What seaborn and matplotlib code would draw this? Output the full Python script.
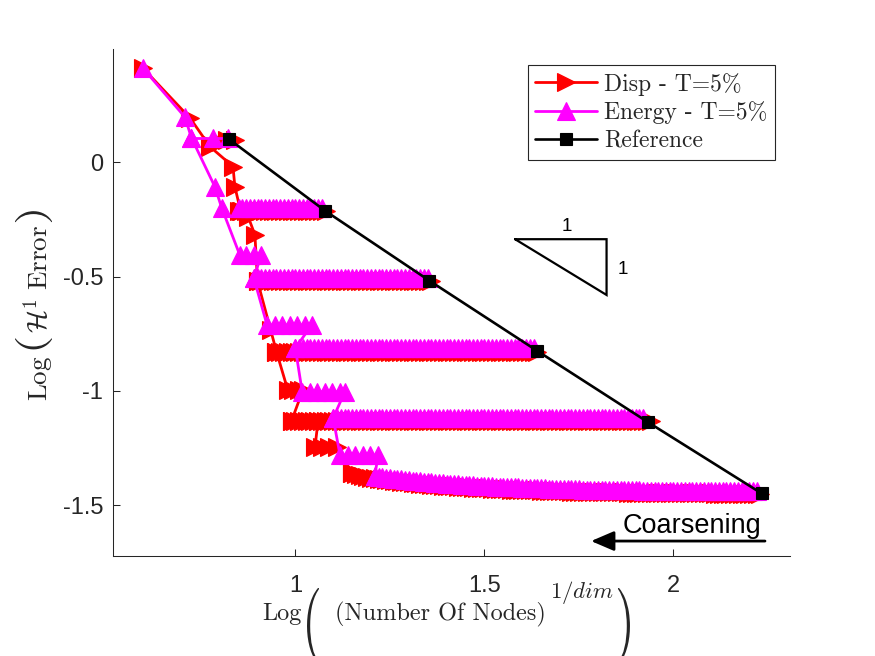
import matplotlib
matplotlib.use('Agg')
import matplotlib.pyplot as plt
import seaborn as sns
from matplotlib.textpath import TextPath
from matplotlib.patches import PathPatch
from matplotlib.font_manager import FontProperties
from matplotlib.transforms import Affine2D, IdentityTransform

# reference (uniform refinement) points
ref_x = [0.825, 1.078, 1.354, 1.640, 1.933, 2.233]
ref_y = [0.101, -0.211, -0.517, -0.825, -1.137, -1.448]

# left "staircase" of each adaptive series
disp_step_x = [0.597, 0.722, 0.774, 0.835, 0.840, 0.855, 0.875, 0.893, 0.900, 0.935, 0.950,
               0.980, 0.995, 1.010, 1.020, 0.990, 1.060, 1.052, 1.070, 1.090, 1.110, 1.150]
disp_step_y = [0.412, 0.193, 0.069, -0.018, -0.106, -0.212, -0.237, -0.317, -0.520, -0.735, -0.828,
               -0.996, -0.996, -0.996, -0.996, -1.130, -1.130, -1.245, -1.245, -1.245, -1.245, -1.360]

energy_step_x = [0.597, 0.708, 0.725, 0.787, 0.805, 0.853, 0.870, 0.890, 0.910, 0.890,
                 0.925, 0.945, 0.965, 0.985, 1.005, 1.025, 1.043, 1.000,
                 1.018, 1.038, 1.058, 1.078, 1.098, 1.118, 1.131, 1.100,
                 1.118, 1.138, 1.158, 1.178, 1.198, 1.219, 1.210]
energy_step_y = [0.412, 0.198, 0.108, -0.106, -0.198, -0.405, -0.405, -0.405, -0.405, -0.505,
                 -0.711, -0.711, -0.711, -0.711, -0.711, -0.711, -0.711, -0.813,
                 -1.003, -1.003, -1.003, -1.003, -1.003, -1.003, -1.003, -1.118,
                 -1.280, -1.280, -1.280, -1.280, -1.280, -1.280, -1.372]

# first level (short)
disp_lvl1_x = [0.78, 0.80, 0.82, 0.84]
disp_lvl1_y = [0.075, 0.090, 0.100, 0.100]
energy_lvl1_x = [0.725, 0.782, 0.822]
energy_lvl1_y = [0.108, 0.108, 0.108]

# coarsening plateaus, x positions of the dense markers
lvl2_x = [0.85, 0.86, 0.87, 0.88, 0.89, 0.90, 0.91, 0.92, 0.93, 0.94,
          0.95, 0.96, 0.97, 0.98, 0.99, 1.00, 1.01, 1.02, 1.03, 1.04,
          1.05, 1.06, 1.07, 1.08]
lvl3_x = [0.89, 0.90, 0.91, 0.92, 0.93, 0.94, 0.95, 0.96, 0.97, 0.98,
          0.99, 1.00, 1.01, 1.02, 1.03, 1.04, 1.05, 1.06, 1.07, 1.08,
          1.09, 1.10, 1.11, 1.12, 1.13, 1.14, 1.15, 1.16, 1.17, 1.18,
          1.19, 1.20, 1.21, 1.22, 1.23, 1.24, 1.25, 1.26, 1.27, 1.28,
          1.29, 1.30, 1.31, 1.32, 1.33, 1.34, 1.35, 1.36]
lvl4_x = [0.95, 0.96, 0.97, 0.98, 0.99, 1.00, 1.01, 1.02, 1.03, 1.04,
          1.05, 1.06, 1.07, 1.08, 1.09, 1.10, 1.11, 1.12, 1.13, 1.14,
          1.15, 1.16, 1.17, 1.18, 1.19, 1.20, 1.21, 1.22, 1.23, 1.24,
          1.25, 1.26, 1.27, 1.28, 1.29, 1.30, 1.31, 1.32, 1.33, 1.34,
          1.35, 1.36, 1.37, 1.38, 1.39, 1.40, 1.41, 1.42, 1.43, 1.44,
          1.45, 1.46, 1.47, 1.48, 1.49, 1.50, 1.51, 1.52, 1.53, 1.54,
          1.55, 1.56, 1.57, 1.58, 1.59, 1.60, 1.61, 1.62, 1.63, 1.64,
          1.65]
lvl5_x = [0.99, 1.00, 1.01, 1.02, 1.03, 1.04, 1.05, 1.06, 1.07, 1.08,
          1.09, 1.10, 1.11, 1.12, 1.13, 1.14, 1.15, 1.16, 1.17, 1.18,
          1.19, 1.20, 1.21, 1.22, 1.23, 1.24, 1.25, 1.26, 1.27, 1.28,
          1.29, 1.30, 1.31, 1.32, 1.33, 1.34, 1.35, 1.36, 1.37, 1.38,
          1.39, 1.40, 1.41, 1.42, 1.43, 1.44, 1.45, 1.46, 1.47, 1.48,
          1.49, 1.50, 1.51, 1.52, 1.53, 1.54, 1.55, 1.56, 1.57, 1.58,
          1.59, 1.60, 1.61, 1.62, 1.63, 1.64, 1.65, 1.66, 1.67, 1.68,
          1.69, 1.70, 1.71, 1.72, 1.73, 1.74, 1.75, 1.76, 1.77, 1.78,
          1.79, 1.80, 1.81, 1.82, 1.83, 1.84, 1.85, 1.86, 1.87, 1.88,
          1.89, 1.90, 1.91, 1.92, 1.93, 1.94]
lvl6_x = [1.15, 1.16, 1.17, 1.18, 1.19, 1.20, 1.21, 1.22, 1.23, 1.24,
          1.25, 1.26, 1.27, 1.28, 1.29, 1.30, 1.31, 1.32, 1.33, 1.34,
          1.35, 1.36, 1.37, 1.38, 1.39, 1.40, 1.41, 1.42, 1.43, 1.44,
          1.45, 1.46, 1.47, 1.48, 1.49, 1.50, 1.51, 1.52, 1.53, 1.54,
          1.55, 1.56, 1.57, 1.58, 1.59, 1.60, 1.61, 1.62, 1.63, 1.64,
          1.65, 1.66, 1.67, 1.68, 1.69, 1.70, 1.71, 1.72, 1.73, 1.74,
          1.75, 1.76, 1.77, 1.78, 1.79, 1.80, 1.81, 1.82, 1.83, 1.84,
          1.85, 1.86, 1.87, 1.88, 1.89, 1.90, 1.91, 1.92, 1.93, 1.94,
          1.95, 1.96, 1.97, 1.98, 1.99, 2.00, 2.01, 2.02, 2.03, 2.04,
          2.05, 2.06, 2.07, 2.08, 2.09, 2.10, 2.11, 2.12, 2.13, 2.14,
          2.15, 2.16, 2.17, 2.18, 2.19, 2.20, 2.21, 2.22, 2.23]

# error level of the flat plateaus 2..5
disp_flat_y = [-0.212, -0.520, -0.828, -1.130]
energy_flat_y = [-0.198, -0.505, -0.813, -1.118]

# last plateau bends down slightly
disp_lvl6_y = [-1.360, -1.364, -1.367, -1.371, -1.375, -1.379,
               -1.382, -1.385, -1.387, -1.389, -1.391, -1.393, -1.395, -1.397, -1.399, -1.400,
               -1.402, -1.404, -1.405, -1.407, -1.408, -1.410, -1.411, -1.412, -1.414, -1.415,
               -1.416, -1.417, -1.419, -1.420, -1.421, -1.422, -1.423, -1.424, -1.425, -1.426,
               -1.426, -1.427, -1.428, -1.429, -1.430, -1.430, -1.431, -1.432, -1.432, -1.433,
               -1.434, -1.434, -1.435, -1.435, -1.436, -1.436, -1.437, -1.437, -1.438, -1.438,
               -1.439, -1.439, -1.440, -1.440, -1.440, -1.441, -1.441, -1.442, -1.442, -1.442,
               -1.443, -1.443, -1.443, -1.444, -1.444, -1.444, -1.444, -1.445, -1.445, -1.445,
               -1.445, -1.446, -1.446, -1.446, -1.446, -1.446, -1.447, -1.447, -1.447, -1.447,
               -1.447, -1.447, -1.448, -1.448, -1.448, -1.448, -1.448, -1.448, -1.448, -1.448,
               -1.449, -1.449, -1.449, -1.449, -1.449, -1.449, -1.449, -1.449, -1.449, -1.449,
               -1.449, -1.449, -1.449]
energy_lvl6_y = [-1.372, -1.375, -1.377, -1.379, -1.381, -1.383, -1.385, -1.387, -1.389, -1.390,
                 -1.392, -1.394, -1.395, -1.397, -1.398, -1.400, -1.401, -1.402, -1.404, -1.405,
                 -1.406, -1.407, -1.409, -1.410, -1.411, -1.412, -1.413, -1.414, -1.415, -1.416,
                 -1.416, -1.417, -1.418, -1.419, -1.420, -1.420, -1.421, -1.422, -1.422, -1.423,
                 -1.424, -1.424, -1.425, -1.425, -1.426, -1.426, -1.427, -1.427, -1.428, -1.428,
                 -1.429, -1.429, -1.430, -1.430, -1.430, -1.431, -1.431, -1.432, -1.432, -1.432,
                 -1.433, -1.433, -1.433, -1.434, -1.434, -1.434, -1.434, -1.435, -1.435, -1.435,
                 -1.435, -1.436, -1.436, -1.436, -1.436, -1.436, -1.437, -1.437, -1.437, -1.437,
                 -1.437, -1.437, -1.438, -1.438, -1.438, -1.438, -1.438, -1.438, -1.438, -1.438,
                 -1.439, -1.439, -1.439, -1.439, -1.439, -1.439, -1.439, -1.439, -1.439, -1.439,
                 -1.439, -1.439]

x_ticks = [1, 1.5, 2]
x_tick_labels = ['1', '1.5', '2']
y_ticks = [-1.5, -1, -0.5, 0]
y_tick_labels = ['-1.5', '-1', '-0.5', '0']

# slope triangle annotation geometry
tri_x = [1.581, 1.823, 1.823, 1.581]
tri_y = [-0.336, -0.336, -0.580, -0.336]

sns.set_theme(style='ticks')
plt.rcParams['font.family'] = ['Liberation Sans', 'DejaVu Sans']
plt.rcParams['mathtext.fontset'] = 'cm'
plt.rcParams['axes.unicode_minus'] = False

W, H = 875, 656
fig = plt.figure(figsize=(W / 100, H / 100), dpi=100)
ax = fig.add_axes([0.1297, 0.1524, 0.7731, 0.7729])


def draw(x, y, color, marker, ms, label=None, lw=2.0):
    kw = dict(x=x, y=y, ax=ax, sort=False, estimator=None, color=color,
              marker=marker, markersize=ms, markeredgecolor=color,
              markerfacecolor=color, markeredgewidth=0.8, linewidth=lw)
    if label is not None:
        kw['label'] = label
    sns.lineplot(**kw)


# Disp series (red, right-pointing triangles)
red = '#FF0000'
draw(disp_step_x, disp_step_y, red, '>', 12.5, label='Disp - T=5%')
draw(disp_lvl1_x, disp_lvl1_y, red, '>', 12.5)
draw(lvl2_x, [disp_flat_y[0]] * len(lvl2_x), red, '>', 12.5)
draw(lvl3_x[1:], [disp_flat_y[1]] * len(lvl3_x[1:]), red, '>', 12.5)
draw(lvl4_x[:-1], [disp_flat_y[2]] * len(lvl4_x[:-1]), red, '>', 12.5)
draw(lvl5_x, [disp_flat_y[3]] * len(lvl5_x), red, '>', 12.5)
draw(lvl6_x, disp_lvl6_y, red, '>', 12.5)

# Energy series (magenta, up triangles)
mag = '#FF00FF'
draw(energy_step_x, energy_step_y, mag, '^', 12.5, label='Energy - T=5%')
draw(energy_lvl1_x, energy_lvl1_y, mag, '^', 12.5)
draw(lvl2_x[:-1], [energy_flat_y[0]] * len(lvl2_x[:-1]), mag, '^', 12.5)
draw(lvl3_x[:-1], [energy_flat_y[1]] * len(lvl3_x[:-1]), mag, '^', 12.5)
draw(lvl4_x[5:-2], [energy_flat_y[2]] * len(lvl4_x[5:-2]), mag, '^', 12.5)
draw(lvl5_x[11:-2], [energy_flat_y[3]] * len(lvl5_x[11:-2]), mag, '^', 12.5)
draw(lvl6_x[6:-1], energy_lvl6_y, mag, '^', 12.5)

# Reference
draw(ref_x, ref_y, 'black', 's', 8.5, label='Reference', lw=1.9)

# slope triangle
ax.plot(tri_x, tri_y, color='black', linewidth=1.6, solid_joinstyle='miter')
ax.text(1.7175, -0.281, '1', ha='center', va='center', fontsize=13.5, color='black')
ax.text(1.867, -0.4705, '1', ha='center', va='center', fontsize=13.5, color='black')

# coarsening arrow
ax.annotate('', xy=(1.782, -1.6565), xytext=(2.242, -1.6565),
            arrowprops=dict(arrowstyle='-|>,head_length=0.7,head_width=0.3',
                            color='black', lw=2, mutation_scale=20, shrinkA=0, shrinkB=0))
ax.text(2.048, -1.623, 'Coarsening', ha='center', va='baseline', fontsize=19.5, color='black')

ax.set_xlim(0.519, 2.308)
ax.set_ylim(-1.722, 0.496)
ax.set_xticks(x_ticks)
ax.set_xticklabels(x_tick_labels)
ax.set_yticks(y_ticks)
ax.set_yticklabels(y_tick_labels)
ax.tick_params(axis='both', direction='in', length=5, width=0.75,
               labelsize=17, colors='#262626')
ax.tick_params(axis='x', pad=13.5)
ax.tick_params(axis='y', pad=7.5)
sns.despine(ax=ax)
for s in ['left', 'bottom']:
    ax.spines[s].set_linewidth(0.75)
    ax.spines[s].set_color('#262626')

handles, labels = ax.get_legend_handles_labels()
leg = ax.legend(handles, labels, loc='upper right', bbox_to_anchor=(0.9778, 0.9684),
                borderaxespad=0, frameon=True, fancybox=False, edgecolor='#262626',
                framealpha=1, prop={'family': 'cmr10', 'size': 17},
                handlelength=2.6, handletextpad=0.3, borderpad=0.33,
                labelspacing=0.24, numpoints=1)
leg.get_frame().set_linewidth(0.8)

# ---- axis labels, built in pieces so the big LaTeX-style brackets can be drawn
lab_col = '#262626'
xlab_size = 17.5
ylab_size = 19.5


def put(s, x, y, size, rot=0, ha='left', family=None):
    kw = dict(transform=IdentityTransform(), fontsize=size, color=lab_col, ha=ha,
              va='baseline', rotation=rot, rotation_mode='anchor')
    if family is not None:
        kw['family'] = family
    return fig.text(x, y, s, **kw)


def big_paren(ch, x_left, y_top, thick, long, upright=True):
    # box given in image pixels (top-left origin)
    tp = TextPath((0, 0), ch, size=100, prop=FontProperties(family='cmr10'))
    bb = tp.get_extents()
    tr = Affine2D().translate(-bb.x0, -bb.y0).scale(1.0 / bb.width, 1.0 / bb.height)
    if upright:
        tr.scale(thick, long).translate(x_left, H - y_top - long)
    else:
        tr.scale(thick, long).rotate_deg(90).translate(x_left + long, H - y_top - thick)
    fig.add_artist(PathPatch(tp, transform=tr, facecolor=lab_col, edgecolor='none'))


# x label
put('Log', 302, H - 620, xlab_size, ha='right', family='cmr10')
big_paren('(', 307, 588, 12, 76)
t_nodes = put('(Number Of Nodes)', 335, H - 620, xlab_size, family='cmr10')

# y label
t_ylog = put(r'$\mathrm{Log}$', 47.5, H - 401, ylab_size, rot=90)

fig.canvas.draw()
rend = fig.canvas.get_renderer()
bb = t_nodes.get_window_extent(rend)
t_sup = put(r'$1/dim$', bb.x1 + 4, H - 598, 16.5)
fig.canvas.draw()
bb = t_sup.get_window_extent(rend)
big_paren(')', bb.x1 + 4, 588, 12, 76)

bb = t_ylog.get_window_extent(rend)
p_top = (H - bb.y1) - 6 - 11
big_paren('(', 15, p_top, 11, 37, upright=False)
t_err = put(r'$\mathcal{H}^1\ \mathrm{Error}$', 47.5, H - (p_top - 5), ylab_size, rot=90)
fig.canvas.draw()
bb = t_err.get_window_extent(rend)
big_paren(')', 15, (H - bb.y1) - 3 - 11, 11, 37, upright=False)

fig.savefig('out.png', dpi=100)
